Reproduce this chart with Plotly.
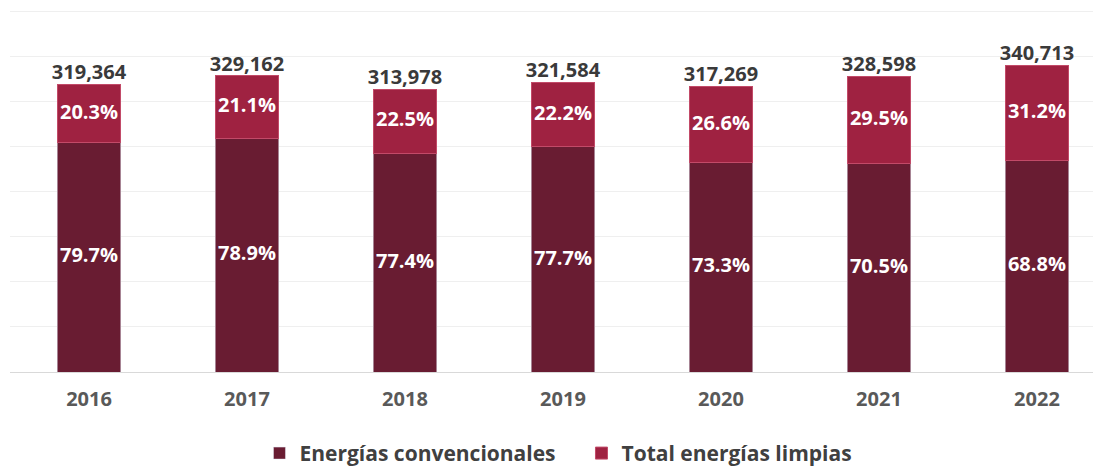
import plotly.graph_objects as go

years = ["2016", "2017", "2018", "2019", "2020", "2021", "2022"]
totals = [319364, 329162, 313978, 321584, 317269, 328598, 340713]
pct_conventional = [79.7, 78.9, 77.4, 77.7, 73.3, 70.5, 68.8]
pct_clean = [20.3, 21.1, 22.5, 22.2, 26.6, 29.5, 31.2]

conventional = [t * p / 100 for t, p in zip(totals, pct_conventional)]
clean = [t * p / 100 for t, p in zip(totals, pct_clean)]

FONT = "Open Sans"
label_font = dict(color="white", size=20, family=FONT, weight="bold")

fig = go.Figure()
fig.add_trace(go.Bar(x=years, y=conventional, name="Energías convencionales",
                     marker_color="#691C32", width=0.4))
fig.add_trace(go.Bar(x=years, y=clean, name="Total energías limpias",
                     marker_color="#9F2241", marker_line=dict(color="#C24A68", width=1), width=0.4))

# percentage labels centred in each segment
fig.add_trace(go.Scatter(x=years, y=[c / 2 for c in conventional], mode="text",
                         text=[f"{p:.1f}%" for p in pct_conventional],
                         textfont=label_font, showlegend=False, hoverinfo="skip"))
fig.add_trace(go.Scatter(x=years, y=[c + l / 2 for c, l in zip(conventional, clean)], mode="text",
                         text=[f"{p:.1f}%" for p in pct_clean],
                         textfont=label_font, showlegend=False, hoverinfo="skip"))

# totals above each bar
fig.add_trace(go.Scatter(x=years, y=totals, mode="text", text=[f"{t:,}" for t in totals],
                         textposition="top center", cliponaxis=False,
                         textfont=dict(size=20, color="#3A3A3A", family=FONT, weight="bold"),
                         showlegend=False, hoverinfo="skip"))

fig.update_layout(
    barmode="stack",
    width=1101, height=468,
    margin=dict(l=2, r=0, t=2, b=104, autoexpand=False),
    plot_bgcolor="white", paper_bgcolor="white",
    showlegend=True,
    legend=dict(orientation="h", x=0.52, xanchor="center", y=-0.225, yanchor="middle",
                font=dict(size=21, color="#404040", family=FONT, weight="bold"),
                traceorder="normal", itemwidth=30, entrywidth=277),
    xaxis=dict(type="category", range=[-0.5, 6.456], showline=True, linecolor="#D9D9D9", linewidth=1,
               tickfont=dict(size=20, color="#595959", family=FONT, weight="bold"),
               ticklabelstandoff=9, showgrid=False),
    yaxis=dict(range=[0, 402000], dtick=50000, showgrid=True, gridcolor="#EFEFEF",
               showticklabels=False, zeroline=False),
)

fig.write_html("out.html")
